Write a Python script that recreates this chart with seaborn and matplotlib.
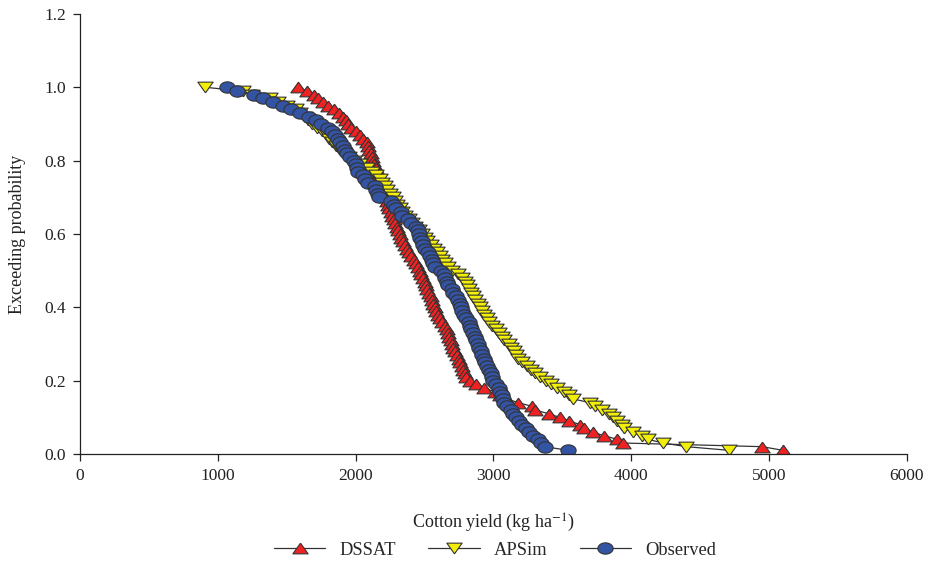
import numpy as np
import pandas as pd
import matplotlib
matplotlib.use("Agg")
import matplotlib.pyplot as plt
import seaborn as sns

# Exceeding probability levels (shared by the three series)
PROB = [1.00, 0.99, 0.98, 0.97, 0.96, 0.95, 0.94, 0.93, 0.92, 0.91,
        0.90, 0.89, 0.88, 0.87, 0.86, 0.85, 0.84, 0.83, 0.82, 0.81,
        0.80, 0.79, 0.78, 0.77, 0.76, 0.75, 0.74, 0.73, 0.72, 0.71,
        0.70, 0.69, 0.68, 0.67, 0.66, 0.65, 0.64, 0.63, 0.62, 0.61,
        0.60, 0.59, 0.58, 0.57, 0.56, 0.55, 0.54, 0.53, 0.52, 0.51,
        0.50, 0.49, 0.48, 0.47, 0.46, 0.45, 0.44, 0.43, 0.42, 0.41,
        0.40, 0.39, 0.38, 0.37, 0.36, 0.35, 0.34, 0.33, 0.32, 0.31,
        0.30, 0.29, 0.28, 0.27, 0.26, 0.25, 0.24, 0.23, 0.22, 0.21,
        0.20, 0.19, 0.18, 0.17, 0.16, 0.15, 0.14, 0.13, 0.12, 0.11,
        0.10, 0.09, 0.08, 0.07, 0.06, 0.05, 0.04, 0.03, 0.02, 0.01]

DSSAT = [1580, 1650, 1700, 1730, 1760, 1800, 1840, 1880, 1905, 1930,
         1945, 1965, 2000, 2030, 2055, 2080, 2090, 2100, 2110, 2118,
         2125, 2135, 2145, 2155, 2165, 2175, 2185, 2195, 2200, 2210,
         2220, 2225, 2235, 2245, 2255, 2265, 2275, 2285, 2300, 2310,
         2320, 2330, 2345, 2360, 2375, 2390, 2400, 2420, 2435, 2450,
         2465, 2475, 2490, 2500, 2510, 2520, 2535, 2545, 2555, 2565,
         2575, 2585, 2600, 2615, 2630, 2645, 2660, 2670, 2680, 2690,
         2700, 2710, 2720, 2735, 2750, 2760, 2770, 2780, 2790, 2800,
         2830, 2870, 2930, 3010, 3050, 3100, 3180, 3280, 3300, 3400,
         3480, 3550, 3630, 3660, 3720, 3800, 3900, 3940, 4950, 5100]

APSIM = [910, 1180, 1250, 1380, 1440, 1500, 1570, 1600, 1630, 1655,
         1685, 1720, 1755, 1790, 1810, 1830, 1860, 1890, 1910, 1950,
         1990, 2030, 2080, 2120, 2150, 2175, 2190, 2210, 2230, 2250,
         2270, 2285, 2300, 2320, 2340, 2360, 2390, 2410, 2430, 2460,
         2480, 2500, 2520, 2545, 2570, 2590, 2610, 2630, 2650, 2670,
         2700, 2740, 2770, 2790, 2805, 2820, 2835, 2850, 2865, 2885,
         2900, 2920, 2935, 2950, 2970, 2990, 3020, 3040, 3060, 3080,
         3110, 3130, 3150, 3165, 3180, 3210, 3240, 3270, 3300, 3340,
         3380, 3420, 3460, 3510, 3550, 3580, 3700, 3740, 3790, 3840,
         3870, 3900, 3930, 3950, 4010, 4080, 4120, 4230, 4400, 4710]

OBSERVED = [1070, 1140, 1260, 1330, 1400, 1470, 1530, 1600, 1660, 1710,
            1750, 1800, 1830, 1850, 1870, 1890, 1905, 1920, 1940, 1960,
            1990, 2000, 2010, 2020, 2050, 2070, 2090, 2140, 2150, 2160,
            2170, 2260, 2280, 2290, 2330, 2340, 2380, 2400, 2440, 2450,
            2460, 2470, 2480, 2490, 2500, 2525, 2540, 2555, 2565, 2575,
            2620, 2640, 2650, 2660, 2670, 2700, 2710, 2725, 2740, 2755,
            2765, 2775, 2785, 2800, 2820, 2830, 2840, 2850, 2865, 2875,
            2885, 2895, 2910, 2920, 2930, 2940, 2955, 2970, 2980, 2990,
            3000, 3015, 3040, 3050, 3060, 3070, 3080, 3100, 3125, 3145,
            3165, 3185, 3205, 3235, 3255, 3290, 3320, 3345, 3375, 3540]

SERIES = ["DSSAT", "APSim", "Observed"]
XTICKS = [0, 1000, 2000, 3000, 4000, 5000, 6000]
YTICKS = [0.0, 0.2, 0.4, 0.6, 0.8, 1.0, 1.2]

sns.set_theme(style="ticks")
plt.rcParams["font.family"] = ["Liberation Serif", "DejaVu Serif"]
plt.rcParams["mathtext.fontset"] = "stix"

fig = plt.figure(figsize=(9.32, 5.69), dpi=100)
ax = fig.add_axes([0.0858, 0.2021, 0.8873, 0.7733])

# slightly flattened marker shapes (as in the reference)
t = np.linspace(0, 2 * np.pi, 41)
ellipse = np.column_stack([np.cos(t), 0.74 * np.sin(t)])
tri_up = np.array([[0, 0.7], [-1, -0.7], [1, -0.7], [0, 0.7]])
tri_dn = np.array([[0, -0.7], [-1, 0.7], [1, 0.7], [0, -0.7]])

styles = {
    "DSSAT": dict(marker=tri_up, markerfacecolor="#ee2222", ms=11),
    "APSim": dict(marker=tri_dn, markerfacecolor="#f2ee0a", ms=11),
    "Observed": dict(marker=ellipse, markerfacecolor="#3353a3", ms=11),
}
data = {"DSSAT": DSSAT, "APSim": APSIM, "Observed": OBSERVED}

for name in SERIES:
    df = pd.DataFrame({"yield": data[name], "prob": PROB})
    sns.lineplot(data=df, x="yield", y="prob", sort=False, estimator=None,
                 color="#333333", lw=0.9, markeredgecolor="#333333",
                 markeredgewidth=0.8, label=name, ax=ax, **styles[name])

ax.set_xlim(0, 6000)
ax.set_ylim(0, 1.2)
ax.set_xticks(XTICKS)
ax.set_yticks(YTICKS)
ax.set_yticklabels([f"{v:.1f}" for v in YTICKS])
ax.tick_params(axis="both", direction="out", length=5, width=0.9,
               labelsize=12.5, colors="#222222", pad=5)
for s in ["top", "right"]:
    ax.spines[s].set_visible(False)
for s in ["left", "bottom"]:
    ax.spines[s].set_color("#222222")
    ax.spines[s].set_linewidth(0.9)

ax.set_xlabel("Cotton yield (kg ha$^{-1}$)", fontsize=13, labelpad=20,
              color="#222222")
ax.set_ylabel("Exceeding probability", fontsize=13, labelpad=13,
              color="#222222")

ax.get_legend().remove()
handles, labels = ax.get_legend_handles_labels()
fig.legend(handles, labels, loc="center", bbox_to_anchor=(0.531, 0.033),
           ncol=3, frameon=False, fontsize=13.3, handlelength=2.8,
           columnspacing=1.75, handletextpad=0.75)

fig.savefig("out.png", dpi=100)
